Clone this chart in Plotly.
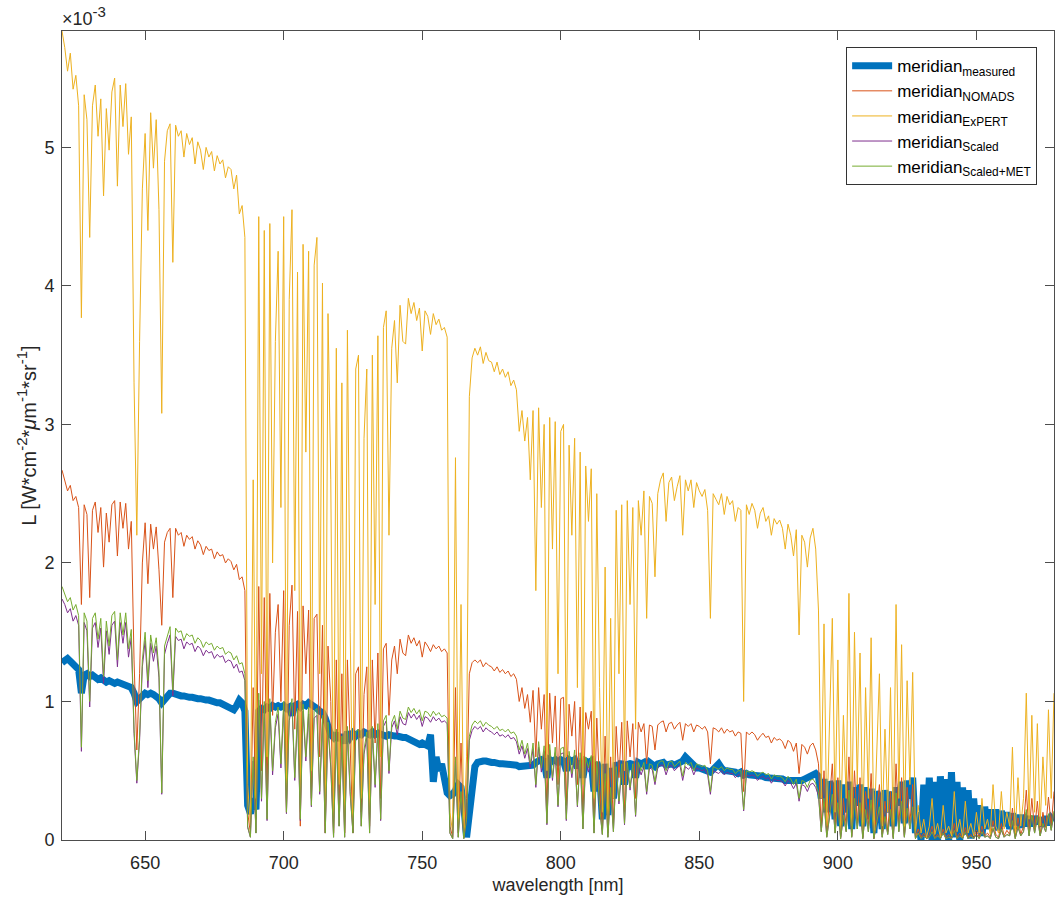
import plotly.graph_objects as go

# wavelength grid [nm]
wavelength = list(range(620, 979))

# radiance values in units of 1e-3 W cm^-2 um^-1 sr^-1
measured = [
    1.28, 1.30, 1.31, 1.29, 1.27, 1.25, 1.23, 1.06, 1.19, 1.20,
    1.18, 1.19, 1.17, 1.16, 1.17, 1.15, 1.14, 1.15, 1.14, 1.13,
    1.14, 1.13, 1.13, 1.12, 1.11, 1.10, 1.06, 1.00, 1.02, 1.05,
    1.06, 1.05, 1.06, 1.05, 1.04, 1.02, 0.99, 1.02, 1.05, 1.06,
    1.06, 1.05, 1.05, 1.04, 1.04, 1.03, 1.03, 1.03, 1.02, 1.02,
    1.02, 1.01, 1.01, 1.01, 1.00, 1.00, 0.99, 0.99, 0.98, 0.97,
    0.96, 0.95, 0.94, 0.97, 1.01, 0.99, 0.93, 0.25, 0.19, 0.30,
    0.22, 0.93, 0.95, 0.94, 0.96, 0.95, 0.97, 0.96, 0.97, 0.96,
    0.97, 0.95, 0.96, 0.90, 0.97, 0.98, 0.96, 0.98, 0.97, 0.99,
    0.98, 0.97, 0.95, 0.93, 0.92, 0.88, 0.80, 0.76, 0.74, 0.77,
    0.72, 0.76, 0.70, 0.78, 0.74, 0.77, 0.75, 0.77, 0.76, 0.78,
    0.77, 0.76, 0.78, 0.76, 0.77, 0.76, 0.76, 0.75, 0.76, 0.75,
    0.75, 0.75, 0.74, 0.74, 0.74, 0.73, 0.72, 0.71, 0.70, 0.69,
    0.70, 0.69, 0.68, 0.76, 0.42, 0.60, 0.50, 0.55, 0.45, 0.34,
    0.32, 0.33, 0.36, 0.40, 0.38, 0.25, 0.02, 0.20, 0.42, 0.53,
    0.56, 0.57, 0.57, 0.57, 0.56, 0.56, 0.56, 0.55, 0.55, 0.55,
    0.55, 0.55, 0.54, 0.54, 0.54, 0.53, 0.53, 0.54, 0.53, 0.54,
    0.54, 0.56, 0.57, 0.58, 0.57, 0.45, 0.58, 0.57, 0.58, 0.56,
    0.58, 0.57, 0.50, 0.58, 0.57, 0.58, 0.52, 0.57, 0.45, 0.57,
    0.56, 0.57, 0.35, 0.56, 0.50, 0.15, 0.55, 0.18, 0.52, 0.30,
    0.56, 0.50, 0.57, 0.40, 0.56, 0.54, 0.56, 0.45, 0.56, 0.55,
    0.56, 0.52, 0.56, 0.55, 0.53, 0.55, 0.56, 0.56, 0.54, 0.55,
    0.55, 0.54, 0.55, 0.56, 0.57, 0.60, 0.58, 0.55, 0.53, 0.52,
    0.52, 0.51, 0.50, 0.50, 0.49, 0.51, 0.54, 0.55, 0.52, 0.50,
    0.50, 0.50, 0.49, 0.49, 0.48, 0.49, 0.47, 0.48, 0.47, 0.47,
    0.47, 0.46, 0.46, 0.46, 0.45, 0.45, 0.45, 0.44, 0.44, 0.44,
    0.44, 0.43, 0.43, 0.43, 0.42, 0.42, 0.42, 0.43, 0.44, 0.45,
    0.46, 0.47, 0.48, 0.46, 0.30, 0.44, 0.20, 0.42, 0.38, 0.15,
    0.43, 0.10, 0.40, 0.20, 0.42, 0.08, 0.38, 0.25, 0.40, 0.10,
    0.38, 0.15, 0.37, 0.05, 0.35, 0.30, 0.08, 0.36, 0.20, 0.35,
    0.10, 0.38, 0.25, 0.42, 0.12, 0.43, 0.30, 0.45, 0.05, 0.20,
    0.00, 0.40, 0.02, 0.45, 0.00, 0.42, 0.00, 0.46, 0.04, 0.44,
    0.00, 0.49, 0.02, 0.42, 0.00, 0.38, 0.04, 0.36, 0.01, 0.30,
    0.06, 0.25, 0.03, 0.24, 0.08, 0.22, 0.10, 0.22, 0.07, 0.21,
    0.10, 0.20, 0.08, 0.19, 0.11, 0.18, 0.09, 0.18, 0.10, 0.17,
    0.10, 0.17, 0.12, 0.16, 0.10, 0.17, 0.11, 0.16, 0.14,
]

nomads = [
    2.67, 2.60, 2.52, 2.56, 2.45, 2.48, 2.40, 1.70, 2.42, 2.35,
    1.75, 2.38, 2.44, 2.22, 2.40, 1.97, 2.36, 2.15, 2.42, 2.45,
    2.05, 2.44, 2.25, 2.43, 2.10, 2.30, 1.30, 0.65, 1.20, 2.00,
    2.29, 1.85, 2.28, 2.10, 2.26, 1.95, 1.55, 2.15, 2.22, 2.25,
    1.75, 2.25, 2.20, 2.22, 2.12, 2.20, 2.17, 2.19, 2.10, 2.16,
    2.13, 2.06, 2.12, 2.09, 2.10, 2.03, 2.08, 2.05, 2.06, 2.00,
    2.03, 2.01, 1.95, 1.99, 1.88, 1.90, 1.80, 0.20, 0.05, 1.10,
    0.15, 1.83, 0.50, 1.75, 0.30, 1.78, 0.90, 1.50, 1.70, 1.00,
    1.80, 0.20, 1.55, 1.84, 0.80, 1.65, 0.10, 1.69, 1.20, 1.66,
    0.30, 1.60, 1.63, 0.60, 1.55, 0.05, 1.40, 1.00, 0.05, 1.30,
    0.20, 1.20, 0.05, 1.30, 0.60, 0.05, 1.20, 1.25, 0.20, 1.05,
    1.25, 0.10, 1.30, 0.70, 1.35, 0.30, 1.38, 1.42, 0.90, 1.30,
    1.40, 1.20, 1.45, 1.35, 1.33, 1.48, 1.42, 1.46, 1.40, 1.44,
    1.32, 1.43, 1.40, 1.36, 1.41, 1.38, 1.40, 1.36, 1.38, 1.35,
    0.10, 0.02, 1.10, 0.05, 0.70, 0.02, 0.30, 1.20, 1.28, 1.30,
    1.28, 1.30, 1.25, 1.28, 1.26, 1.25, 1.22, 1.25, 1.21, 1.23,
    1.20, 1.22, 1.18, 1.20, 1.16, 1.00, 1.10, 0.95, 1.05, 0.85,
    1.08, 0.60, 1.10, 0.80, 1.05, 0.20, 1.06, 0.70, 1.04, 0.40,
    1.02, 1.03, 0.25, 0.98, 0.75, 1.00, 0.40, 0.96, 0.15, 0.92,
    0.80, 0.93, 0.10, 0.88, 0.40, 0.08, 0.75, 0.05, 0.60, 0.12,
    0.82, 0.45, 0.85, 0.20, 0.86, 0.60, 0.84, 0.30, 0.85, 0.78,
    0.84, 0.55, 0.83, 0.82, 0.65, 0.83, 0.85, 0.86, 0.78, 0.84,
    0.85, 0.80, 0.83, 0.85, 0.72, 0.84, 0.82, 0.84, 0.78, 0.83,
    0.82, 0.80, 0.82, 0.78, 0.55, 0.81, 0.80, 0.78, 0.81, 0.77,
    0.80, 0.78, 0.79, 0.75, 0.78, 0.77, 0.35, 0.78, 0.76, 0.78,
    0.76, 0.72, 0.75, 0.77, 0.74, 0.75, 0.70, 0.74, 0.72, 0.73,
    0.71, 0.66, 0.72, 0.70, 0.64, 0.70, 0.48, 0.69, 0.67, 0.62,
    0.68, 0.70, 0.65, 0.55, 0.10, 0.50, 0.04, 0.30, 0.55, 0.08,
    0.45, 0.02, 0.30, 0.10, 0.60, 0.03, 0.50, 0.12, 0.45, 0.02,
    0.35, 0.10, 0.48, 0.01, 0.20, 0.40, 0.04, 0.28, 0.06, 0.35,
    0.02, 0.55, 0.10, 0.45, 0.03, 0.38, 0.12, 0.40, 0.02, 0.08,
    0.02, 0.05, 0.01, 0.04, 0.10, 0.02, 0.04, 0.01, 0.08, 0.02,
    0.04, 0.01, 0.12, 0.02, 0.05, 0.01, 0.09, 0.02, 0.04, 0.01,
    0.07, 0.02, 0.10, 0.03, 0.05, 0.02, 0.14, 0.04, 0.02, 0.12,
    0.03, 0.07, 0.04, 0.23, 0.02, 0.16, 0.04, 0.10, 0.36, 0.05,
    0.30, 0.07, 0.28, 0.04, 0.20, 0.09, 0.31, 0.10, 0.35,
]

expert = [
    5.84, 5.72, 5.55, 5.68, 5.42, 5.52, 5.30, 3.77, 5.38, 5.20,
    4.35, 5.30, 5.45, 5.08, 5.35, 4.65, 5.28, 4.98, 5.40, 5.50,
    4.72, 5.45, 5.15, 5.46, 4.95, 5.22, 3.30, 2.20, 3.60, 4.70,
    5.10, 4.40, 5.25, 4.85, 5.20, 4.55, 3.08, 4.90, 5.12, 5.17,
    4.17, 5.16, 5.08, 5.12, 4.93, 5.10, 5.02, 5.07, 4.88, 5.04,
    4.98, 4.84, 5.00, 4.93, 4.97, 4.83, 4.94, 4.88, 4.91, 4.78,
    4.86, 4.84, 4.70, 4.80, 4.52, 4.58, 4.35, 0.40, 0.10, 2.60,
    0.30, 4.50, 1.20, 4.40, 0.60, 4.45, 2.00, 3.60, 4.25, 2.40,
    4.50, 0.30, 3.90, 4.55, 1.80, 4.10, 0.20, 4.30, 2.80, 4.25,
    0.50, 4.15, 4.35, 1.20, 4.02, 0.10, 3.80, 2.60, 0.05, 3.55,
    0.40, 3.30, 0.05, 3.68, 1.50, 0.10, 3.40, 3.50, 0.30, 2.90,
    3.40, 0.20, 3.50, 1.70, 3.64, 0.60, 3.70, 3.82, 2.20, 3.55,
    3.75, 3.30, 3.86, 3.60, 3.58, 3.91, 3.80, 3.88, 3.75, 3.84,
    3.53, 3.82, 3.78, 3.65, 3.80, 3.72, 3.76, 3.68, 3.70, 3.63,
    0.20, 0.05, 2.76, 0.10, 1.70, 0.02, 0.60, 3.20, 3.48, 3.55,
    3.50, 3.56, 3.44, 3.52, 3.46, 3.45, 3.38, 3.45, 3.36, 3.40,
    3.34, 3.38, 3.28, 3.32, 3.25, 2.95, 3.10, 2.88, 3.05, 2.60,
    3.10, 1.80, 3.12, 2.40, 3.00, 0.50, 3.05, 2.10, 3.02, 1.20,
    2.95, 3.00, 0.60, 2.85, 2.20, 2.90, 1.10, 2.80, 0.40, 2.70,
    2.30, 2.68, 0.30, 2.50, 1.10, 0.20, 1.97, 0.10, 1.60, 0.30,
    2.38, 1.20, 2.42, 0.50, 2.45, 1.70, 2.40, 0.80, 2.45, 2.20,
    2.52, 1.60, 2.48, 2.43, 1.90, 2.50, 2.60, 2.65, 2.30, 2.58,
    2.62, 2.45, 2.55, 2.63, 2.20, 2.60, 2.52, 2.60, 2.40, 2.58,
    2.52, 2.48, 2.53, 2.38, 1.60, 2.50, 2.46, 2.42, 2.50, 2.35,
    2.48, 2.42, 2.45, 2.30, 2.40, 2.38, 1.00, 2.42, 2.35, 2.43,
    2.38, 2.25, 2.36, 2.40, 2.30, 2.34, 2.20, 2.32, 2.28, 2.31,
    2.25, 2.10, 2.28, 2.20, 2.05, 2.24, 1.48, 2.20, 2.15, 1.97,
    2.18, 2.25, 2.10, 1.66, 0.30, 1.56, 0.10, 0.80, 1.60, 0.20,
    1.30, 0.05, 0.90, 0.30, 1.78, 0.10, 1.50, 0.40, 1.35, 0.05,
    1.10, 0.30, 1.46, 0.02, 0.60, 1.20, 0.10, 0.80, 0.20, 1.10,
    0.05, 1.70, 0.30, 1.41, 0.10, 1.15, 0.40, 1.21, 0.05, 0.25,
    0.05, 0.15, 0.02, 0.10, 0.30, 0.04, 0.12, 0.02, 0.25, 0.05,
    0.10, 0.03, 0.35, 0.06, 0.15, 0.02, 0.28, 0.05, 0.12, 0.03,
    0.20, 0.05, 0.30, 0.08, 0.15, 0.04, 0.40, 0.10, 0.05, 0.35,
    0.08, 0.20, 0.10, 0.67, 0.05, 0.45, 0.10, 0.30, 1.06, 0.15,
    0.90, 0.20, 0.84, 0.10, 0.60, 0.25, 0.94, 0.30, 1.06,
]

scaled = [
    1.74, 1.70, 1.64, 1.67, 1.58, 1.62, 1.55, 0.64, 1.57, 1.51,
    0.96, 1.53, 1.57, 1.39, 1.53, 1.13, 1.51, 1.34, 1.55, 1.58,
    1.25, 1.57, 1.42, 1.57, 1.32, 1.46, 0.77, 0.41, 0.72, 1.25,
    1.44, 1.10, 1.42, 1.29, 1.40, 1.17, 0.33, 1.34, 1.42, 1.48,
    1.04, 1.47, 1.44, 1.45, 1.38, 1.43, 1.41, 1.42, 1.36, 1.40,
    1.38, 1.33, 1.37, 1.35, 1.36, 1.31, 1.34, 1.32, 1.33, 1.28,
    1.30, 1.29, 1.24, 1.27, 1.21, 1.22, 1.15, 0.09, 0.02, 0.57,
    0.05, 1.01, 0.28, 0.95, 0.14, 0.97, 0.47, 0.81, 0.91, 0.52,
    0.95, 0.19, 0.86, 0.97, 0.43, 0.90, 0.14, 0.93, 0.57, 0.91,
    0.24, 0.88, 0.90, 0.33, 0.85, 0.05, 0.81, 0.52, 0.02, 0.76,
    0.10, 0.71, 0.02, 0.78, 0.33, 0.05, 0.74, 0.76, 0.10, 0.62,
    0.74, 0.05, 0.78, 0.38, 0.80, 0.14, 0.82, 0.86, 0.48, 0.81,
    0.86, 0.76, 0.89, 0.84, 0.83, 0.92, 0.88, 0.91, 0.87, 0.90,
    0.82, 0.89, 0.88, 0.85, 0.89, 0.86, 0.88, 0.85, 0.86, 0.84,
    0.05, 0.01, 0.57, 0.02, 0.33, 0.01, 0.14, 0.72, 0.79, 0.82,
    0.80, 0.82, 0.78, 0.81, 0.79, 0.78, 0.76, 0.78, 0.75, 0.76,
    0.74, 0.76, 0.73, 0.74, 0.71, 0.62, 0.68, 0.59, 0.66, 0.52,
    0.66, 0.38, 0.67, 0.49, 0.64, 0.11, 0.65, 0.43, 0.63, 0.24,
    0.62, 0.63, 0.14, 0.60, 0.45, 0.61, 0.24, 0.59, 0.08, 0.56,
    0.49, 0.57, 0.05, 0.54, 0.24, 0.04, 0.45, 0.02, 0.36, 0.06,
    0.50, 0.26, 0.52, 0.11, 0.53, 0.36, 0.52, 0.17, 0.53, 0.47,
    0.53, 0.33, 0.52, 0.51, 0.40, 0.52, 0.54, 0.54, 0.47, 0.53,
    0.54, 0.50, 0.52, 0.54, 0.43, 0.53, 0.51, 0.53, 0.47, 0.52,
    0.51, 0.50, 0.51, 0.47, 0.33, 0.50, 0.49, 0.48, 0.50, 0.47,
    0.49, 0.48, 0.48, 0.45, 0.47, 0.47, 0.21, 0.47, 0.46, 0.47,
    0.46, 0.43, 0.45, 0.46, 0.44, 0.45, 0.41, 0.44, 0.43, 0.43,
    0.42, 0.39, 0.43, 0.41, 0.37, 0.41, 0.28, 0.40, 0.39, 0.35,
    0.40, 0.41, 0.38, 0.32, 0.06, 0.28, 0.02, 0.17, 0.31, 0.05,
    0.25, 0.01, 0.17, 0.06, 0.34, 0.02, 0.28, 0.08, 0.25, 0.01,
    0.21, 0.06, 0.27, 0.01, 0.11, 0.22, 0.02, 0.16, 0.04, 0.21,
    0.01, 0.32, 0.06, 0.26, 0.02, 0.22, 0.08, 0.23, 0.01, 0.05,
    0.01, 0.03, 0.01, 0.02, 0.06, 0.01, 0.03, 0.01, 0.05, 0.01,
    0.02, 0.01, 0.07, 0.01, 0.03, 0.01, 0.06, 0.01, 0.03, 0.01,
    0.04, 0.01, 0.06, 0.02, 0.03, 0.01, 0.08, 0.02, 0.01, 0.07,
    0.02, 0.04, 0.03, 0.13, 0.01, 0.09, 0.03, 0.06, 0.20, 0.03,
    0.17, 0.05, 0.16, 0.03, 0.11, 0.06, 0.18, 0.07, 0.20,
]

scaled_met = [
    1.83, 1.78, 1.72, 1.75, 1.66, 1.70, 1.62, 0.67, 1.64, 1.58,
    1.00, 1.60, 1.64, 1.45, 1.60, 1.18, 1.58, 1.40, 1.62, 1.65,
    1.30, 1.64, 1.48, 1.64, 1.38, 1.52, 0.80, 0.43, 0.75, 1.30,
    1.50, 1.15, 1.48, 1.35, 1.46, 1.22, 0.34, 1.40, 1.48, 1.54,
    1.08, 1.53, 1.50, 1.51, 1.44, 1.49, 1.47, 1.48, 1.42, 1.46,
    1.44, 1.39, 1.43, 1.41, 1.42, 1.37, 1.40, 1.38, 1.39, 1.34,
    1.36, 1.35, 1.30, 1.33, 1.27, 1.28, 1.20, 0.10, 0.02, 0.60,
    0.05, 1.06, 0.30, 1.00, 0.15, 1.02, 0.50, 0.85, 0.96, 0.55,
    1.00, 0.20, 0.90, 1.02, 0.45, 0.95, 0.15, 0.98, 0.60, 0.96,
    0.25, 0.93, 0.95, 0.35, 0.90, 0.05, 0.85, 0.55, 0.02, 0.80,
    0.10, 0.75, 0.02, 0.82, 0.35, 0.05, 0.78, 0.80, 0.10, 0.65,
    0.78, 0.05, 0.82, 0.40, 0.84, 0.15, 0.86, 0.90, 0.50, 0.85,
    0.90, 0.80, 0.93, 0.88, 0.87, 0.96, 0.92, 0.95, 0.91, 0.94,
    0.86, 0.93, 0.92, 0.89, 0.93, 0.90, 0.92, 0.89, 0.90, 0.88,
    0.05, 0.01, 0.60, 0.02, 0.35, 0.01, 0.15, 0.75, 0.83, 0.86,
    0.84, 0.86, 0.82, 0.85, 0.83, 0.82, 0.80, 0.82, 0.79, 0.80,
    0.78, 0.80, 0.77, 0.78, 0.75, 0.65, 0.72, 0.62, 0.70, 0.55,
    0.70, 0.40, 0.71, 0.52, 0.68, 0.12, 0.69, 0.45, 0.67, 0.25,
    0.66, 0.67, 0.15, 0.64, 0.48, 0.65, 0.25, 0.63, 0.08, 0.60,
    0.52, 0.61, 0.05, 0.57, 0.25, 0.04, 0.48, 0.02, 0.38, 0.06,
    0.53, 0.28, 0.55, 0.12, 0.56, 0.38, 0.55, 0.18, 0.56, 0.50,
    0.56, 0.35, 0.55, 0.54, 0.42, 0.55, 0.57, 0.57, 0.50, 0.56,
    0.57, 0.53, 0.55, 0.57, 0.46, 0.56, 0.54, 0.56, 0.50, 0.55,
    0.54, 0.53, 0.54, 0.50, 0.35, 0.53, 0.52, 0.51, 0.53, 0.50,
    0.52, 0.51, 0.51, 0.48, 0.50, 0.50, 0.22, 0.50, 0.49, 0.50,
    0.49, 0.46, 0.48, 0.49, 0.47, 0.48, 0.44, 0.47, 0.46, 0.46,
    0.45, 0.42, 0.46, 0.44, 0.40, 0.44, 0.30, 0.43, 0.42, 0.38,
    0.43, 0.44, 0.41, 0.34, 0.06, 0.30, 0.02, 0.18, 0.33, 0.05,
    0.27, 0.01, 0.18, 0.06, 0.36, 0.02, 0.30, 0.08, 0.27, 0.01,
    0.22, 0.06, 0.29, 0.01, 0.12, 0.24, 0.02, 0.17, 0.04, 0.22,
    0.01, 0.34, 0.06, 0.28, 0.02, 0.23, 0.08, 0.24, 0.01, 0.05,
    0.01, 0.03, 0.01, 0.02, 0.06, 0.01, 0.03, 0.01, 0.05, 0.01,
    0.02, 0.01, 0.07, 0.01, 0.03, 0.01, 0.06, 0.01, 0.03, 0.01,
    0.04, 0.01, 0.06, 0.02, 0.03, 0.01, 0.09, 0.02, 0.01, 0.08,
    0.02, 0.04, 0.03, 0.14, 0.01, 0.10, 0.03, 0.06, 0.22, 0.03,
    0.18, 0.05, 0.17, 0.03, 0.12, 0.06, 0.19, 0.07, 0.21,
]

x_ticks = [650, 700, 750, 800, 850, 900, 950]
y_ticks = [0, 1, 2, 3, 4, 5]

FONT = "Liberation Sans, Arial, Helvetica, sans-serif"
AX = "#4d4d4d"
TXT = "#262626"

series = [
    ("meridian<sub>measured</sub>", measured, "#0072BD", 7),
    ("meridian<sub>NOMADS</sub>", nomads, "#D95319", 1),
    ("meridian<sub>ExPERT</sub>", expert, "#EDB120", 1),
    ("meridian<sub>Scaled</sub>", scaled, "#7E2F8E", 1),
    ("meridian<sub>Scaled+MET</sub>", scaled_met, "#77AC30", 1),
]

fig = go.Figure()
for name, vals, color, w in series:
    fig.add_trace(go.Scatter(x=wavelength, y=vals, mode="lines", name=name,
                             line=dict(color=color, width=w)))

axis_common = dict(
    showline=True, linecolor=AX, linewidth=1, mirror="ticks",
    ticks="inside", ticklen=9, tickcolor=AX, tickwidth=1,
    showgrid=False, zeroline=False,
    tickfont=dict(family=FONT, size=18, color=TXT),
)

sup = lambda s: "<sup><span style='font-size:15px'>" + s + "</span></sup>"
y_title = "L [W*cm" + sup("-2") + "*<i>μ</i>m" + sup("-1") + "*sr" + sup("-1") + "]"

fig.update_layout(
    width=1057, height=901,
    margin=dict(l=62, r=3, t=31, b=61),
    paper_bgcolor="white", plot_bgcolor="white",
    font=dict(family=FONT, color=TXT),
    xaxis=dict(range=[620, 978], tickvals=x_ticks, ticklabelstandoff=6,
               title=dict(text="wavelength [nm]", font=dict(family=FONT, size=18, color=TXT), standoff=6),
               **axis_common),
    yaxis=dict(range=[0, 5.84], tickvals=y_ticks, ticklabelstandoff=3,
               title=dict(text=y_title, font=dict(family=FONT, size=20, color=TXT), standoff=2),
               **axis_common),
    legend=dict(x=0.983, y=0.98, xanchor="right", yanchor="top",
                bgcolor="white", bordercolor="#333333", borderwidth=1,
                font=dict(family=FONT, size=17, color="black"),
                itemwidth=40, tracegroupgap=0),
    showlegend=True,
)

fig.add_annotation(text="×10" + sup("-3"), xref="paper", yref="paper", x=0, y=1,
                   xanchor="left", yanchor="bottom", showarrow=False,
                   font=dict(family=FONT, size=18, color=TXT), xshift=-2, yshift=0)

fig.write_html("out.html")
